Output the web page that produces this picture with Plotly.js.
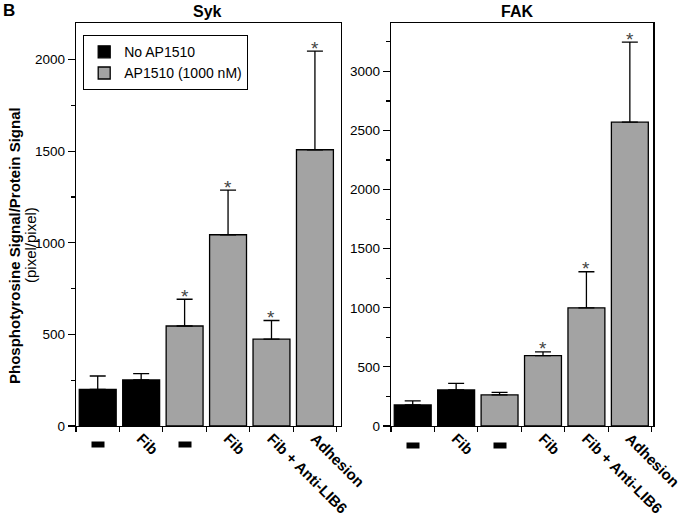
<!DOCTYPE html>
<html>
<head>
<meta charset="utf-8">
<script src="https://cdn.plot.ly/plotly-3.0.1.min.js"></script>
<style>html,body{margin:0;padding:0;background:#fff;}#chart{width:684px;height:527px;}</style>
</head>
<body>
<div id="chart"></div>
<script>
// ---- data ----
var categoryLabels = ["-", "Fib", "-", "Fib", "Fib + Anti-LIB6", "Adhesion"];
var catIndex = [0, 1, 2, 3, 4, 5];
var noDrugIdx = [0, 1];
var drugIdx = [2, 3, 4, 5];

var sykNo = [200, 251];
var sykNoErr = [73, 35];
var sykAP = [546, 1044, 474, 1508];
var sykAPErr = [146, 244, 102, 539];
var sykStarIdx = [2, 3, 4, 5];

var fakNo = [178, 305];
var fakNoErr = [34, 56];
var fakAP = [263, 596, 1000, 2570];
var fakAPErr = [22, 31, 305, 678];
var fakStarIdx = [3, 4, 5];

var seriesNames = ["No AP1510", "AP1510 (1000 nM)"];
var panelTitles = ["Syk", "FAK"];

// ---- helpers ----
var BLACK = "#000000", GRAY = "#a3a3a3";
function zeros(n){ var a=[]; for(var i=0;i<n;i++) a.push(0); return a; }
function sum(a,b){ return a.map(function(v,i){ return v+b[i]; }); }

function barTrace(x, y, err, color, name, xa, ya, showleg){
  return {
    type: "bar", x: x, y: y, name: name, xaxis: xa, yaxis: ya,
    width: 0.85, showlegend: showleg,
    marker: {color: color, line: {color: BLACK, width: 1.3}},
    error_y: {type: "data", symmetric: false, array: err, arrayminus: zeros(err.length),
              color: BLACK, thickness: 1.3, width: 8},
    hoverinfo: "skip"
  };
}

var sykAll = sykNo.concat(sykAP), sykErrAll = sykNoErr.concat(sykAPErr);
var fakAll = fakNo.concat(fakAP), fakErrAll = fakNoErr.concat(fakAPErr);
var sykTop = sum(sykAll, sykErrAll), fakTop = sum(fakAll, fakErrAll);

var data = [
  barTrace(noDrugIdx, sykNo, sykNoErr, BLACK, seriesNames[0], "x", "y", true),
  barTrace(drugIdx, sykAP, sykAPErr, GRAY, seriesNames[1], "x", "y", true),
  barTrace(noDrugIdx, fakNo, fakNoErr, BLACK, seriesNames[0], "x2", "y2", false),
  barTrace(drugIdx, fakAP, fakAPErr, GRAY, seriesNames[1], "x2", "y2", false),
  // invisible helper traces so the label axes are drawn
  {type: "scatter", mode: "none", x: catIndex, y: zeros(6), xaxis: "x3", yaxis: "y", showlegend: false, hoverinfo: "skip"},
  {type: "scatter", mode: "none", x: catIndex, y: zeros(6), xaxis: "x4", yaxis: "y2", showlegend: false, hoverinfo: "skip"}
];

var boundaries = [-0.5, 0.5, 1.5, 2.5, 3.5, 4.5, 5.5];
var tickTextBold = categoryLabels.map(function(t){ return t === "-" ? "" : "<b>" + t + "</b>"; });

var yDomain = [1 - 426/527, 1 - 23/527];
var xDom1 = [76/684, 341/684], xDom2 = [391/684, 653.3/684];

function boundaryAxis(dom, range, anchor){
  return {domain: dom, range: range, anchor: anchor, tickmode: "array", tickvals: boundaries,
    ticktext: boundaries.map(function(){return "";}), ticks: "outside", ticklen: 5, tickwidth: 1.2,
    tickcolor: BLACK, showline: true, linecolor: BLACK, linewidth: 1.3, mirror: true,
    showgrid: false, zeroline: false, fixedrange: true};
}
function labelAxis(over, range, anchor){
  return {overlaying: over, range: range, anchor: anchor, tickmode: "array", tickvals: catIndex,
    ticktext: tickTextBold, ticks: "", tickangle: 45, showline: false, showgrid: false,
    zeroline: false, tickfont: {size: 15, color: BLACK}, ticklabeloverflow: "allow",
    fixedrange: true};
}
function valAxis(dom, range, anchor){
  return {domain: dom, range: range, anchor: anchor, dtick: 500, ticks: "outside", ticklen: 7,
    tickwidth: 1.2, tickcolor: BLACK, showline: true, linecolor: BLACK, linewidth: 1.3,
    mirror: true, showgrid: false, zeroline: false, tickfont: {size: 13.5, color: BLACK},
    minor: {dtick: 250, ticks: "outside", ticklen: 4, tickcolor: BLACK, tickwidth: 1.2},
    fixedrange: true};
}

var annotations = [
  {text: "<b>B</b>", x: 9/684, y: 1 - 10.5/527, xref: "paper", yref: "paper", showarrow: false,
   xanchor: "center", yanchor: "middle", font: {size: 17}},
  {text: "<b>" + panelTitles[0] + "</b>", x: 207/684, y: 1 - 11/527, xref: "paper", yref: "paper",
   showarrow: false, xanchor: "center", yanchor: "middle", font: {size: 16}},
  {text: "<b>" + panelTitles[1] + "</b>", x: 517/684, y: 1 - 11/527, xref: "paper", yref: "paper",
   showarrow: false, xanchor: "center", yanchor: "middle", font: {size: 16}},
  {text: "<b>Phosphotyrosine Signal/Protein Signal</b>", textangle: -90, x: 14/684, y: 1 - 246/527,
   xref: "paper", yref: "paper", showarrow: false, xanchor: "center", yanchor: "middle", font: {size: 15}},
  {text: "(pixel/pixel)", textangle: -90, x: 31/684, y: 1 - 245/527,
   xref: "paper", yref: "paper", showarrow: false, xanchor: "center", yanchor: "middle", font: {size: 15}}
];
// significance asterisks above the error bars
function addStars(idxs, tops, xa, ya){
  idxs.forEach(function(i){
    annotations.push({text: "*", x: i, y: tops[i], xref: xa, yref: ya, showarrow: false,
      xanchor: "center", yanchor: "middle", yshift: 3, font: {size: 19, color: "#444"}});
  });
}
addStars(sykStarIdx, sykTop, "x", "y");
addStars(fakStarIdx, fakTop, "x2", "y2");

// dash labels for "-" categories
[["x", 1 - 444/527], ["x2", 1 - 445.5/527]].forEach(function(p){
  catIndex.forEach(function(i){
    if (categoryLabels[i] === "-") {
      annotations.push({text: " ", x: i, xref: p[0], y: p[1], yref: "paper", showarrow: false,
        xanchor: "center", yanchor: "middle", bgcolor: BLACK, width: 12, height: 5, borderpad: 0,
        font: {size: 4}});
    }
  });
});

var layout = {
  width: 684, height: 527, margin: {l: 0, r: 0, t: 0, b: 0},
  paper_bgcolor: "#ffffff", plot_bgcolor: "#ffffff",
  font: {family: "Liberation Sans, Arial, Helvetica, sans-serif", color: BLACK},
  barmode: "overlay",
  xaxis: boundaryAxis(xDom1, [-0.5, 5.6], "y"),
  xaxis2: boundaryAxis(xDom2, [-0.5, 5.54], "y2"),
  xaxis3: labelAxis("x", [-0.5, 5.6], "y"),
  xaxis4: labelAxis("x2", [-0.5, 5.54], "y2"),
  yaxis: valAxis(yDomain, [0, 2200], "x"),
  yaxis2: valAxis(yDomain, [0, 3409], "x2"),
  showlegend: true,
  legend: {x: 83/684, y: 1 - 35/527, xanchor: "left", yanchor: "top", bgcolor: "#ffffff",
    bordercolor: BLACK, borderwidth: 1.2, font: {size: 14, color: BLACK}, traceorder: "normal",
    itemwidth: 30},
  annotations: annotations
};

Plotly.newPlot("chart", data, layout, {staticPlot: true, displayModeBar: false});
</script>
</body>
</html>
